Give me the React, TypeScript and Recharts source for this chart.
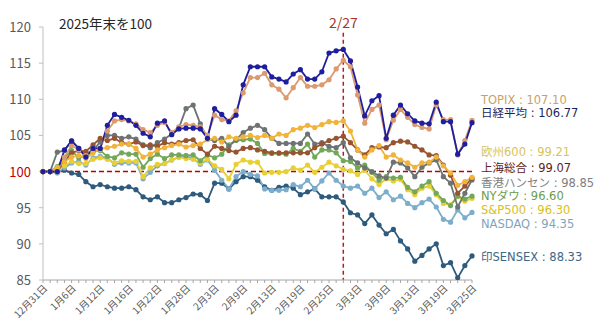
import React from 'react';
import { LineChart, Line, XAxis, YAxis, ReferenceLine } from 'recharts';

const dates = [
  '12月31日', '1月1日', '1月2日', '1月5日', '1月6日', '1月7日', '1月8日', '1月9日', '1月12日', '1月13日',
  '1月14日', '1月15日', '1月16日', '1月19日', '1月20日', '1月21日', '1月22日', '1月23日', '1月26日', '1月27日',
  '1月28日', '1月29日', '1月30日', '2月2日', '2月3日', '2月4日', '2月5日', '2月6日', '2月9日', '2月10日',
  '2月11日', '2月12日', '2月13日', '2月16日', '2月17日', '2月18日', '2月19日', '2月20日', '2月23日', '2月24日',
  '2月25日', '2月26日', '2月27日', '3月2日', '3月3日', '3月4日', '3月5日', '3月6日', '3月9日', '3月10日',
  '3月11日', '3月12日', '3月13日', '3月16日', '3月17日', '3月18日', '3月19日', '3月20日', '3月23日', '3月24日',
  '3月25日',
];

const nikkei = [
  100, 100, 100, 103.0, 104.2, 103.2, 102.0, 103.2, 103.2, 106.4,
  107.9, 107.5, 107.1, 106.4, 105.3, 104.8, 106.7, 107.0, 105.1, 105.9,
  106.0, 106.0, 105.9, 104.6, 108.7, 107.9, 106.9, 107.8, 112.0, 114.5,
  114.5, 114.5, 113.1, 112.8, 112.4, 113.5, 114.1, 112.8, 112.8, 113.8,
  116.4, 116.7, 116.9, 115.3, 111.7, 107.7, 109.8, 110.5, 104.6, 107.8,
  109.2, 108.0, 107.0, 106.7, 106.6, 109.6, 106.9, 106.9, 102.4, 103.8,
  106.77,
];

const topix = [
  100, 100, 100, 102.0, 103.6, 103.0, 102.2, 103.2, 103.2, 105.6,
  107.0, 107.2, 107.0, 106.6, 105.8, 105.4, 106.4, 106.8, 105.4, 106.2,
  106.5, 106.4, 106.2, 105.0, 107.8, 107.2, 107.0, 108.4, 110.9, 113.0,
  113.0, 113.6, 112.0, 111.4, 110.2, 111.6, 113.0, 111.8, 111.8, 112.0,
  112.7, 114.2, 115.4, 114.5, 110.6, 106.7, 108.6, 109.2, 104.4, 107.1,
  108.6, 107.5, 106.5, 106.1, 105.9, 109.2, 107.2, 107.2, 102.3, 104.3,
  107.10,
];

const europe600 = [
  100, 100, 100.6, 101.4, 102.0, 102.2, 101.8, 102.6, 103.1, 103.3,
  103.5, 103.8, 103.8, 103.2, 102.0, 102.4, 103.0, 103.3, 103.6, 103.8,
  103.4, 103.6, 103.8, 104.4, 104.6, 104.1, 104.8, 104.6, 104.8, 105.0,
  104.7, 105.0, 104.6, 105.2, 105.0, 105.8, 106.0, 106.4, 106.1, 106.5,
  106.9, 106.8, 107.0, 105.6, 103.0, 102.0, 103.0, 103.6, 102.0, 102.3,
  101.6, 101.2, 100.6, 101.2, 101.3, 102.0, 100.8, 99.8, 98.1, 98.6,
  99.21,
];

const shanghai = [
  100, 100, 100, 101.4, 102.6, 102.9, 102.8, 103.7, 104.6, 104.3,
  104.6, 104.0, 103.8, 104.1, 103.6, 103.7, 103.5, 104.0, 103.8, 104.0,
  104.3, 104.4, 103.2, 102.4, 103.5, 103.2, 102.9, 102.7, 103.2, 103.3,
  103.0, 102.8, 102.6, 102.6, 102.6, 102.6, 102.6, 102.6, 103.3, 103.8,
  104.3, 104.6, 104.9, 104.0, 103.0, 102.3, 103.3, 103.4, 103.3, 104.0,
  104.2, 104.1, 103.5, 103.0, 102.3, 102.2, 100.9, 99.5, 97.0, 98.0,
  99.07,
];

const hangseng = [
  100, 100, 102.7, 102.9, 104.3, 103.2, 102.3, 102.9, 104.1, 105.0,
  105.0, 104.6, 104.8, 104.5, 103.7, 103.3, 104.0, 104.5, 105.2, 106.0,
  108.7, 109.2, 106.6, 104.5, 104.3, 104.6, 103.5, 104.4, 105.4, 106.0,
  106.4, 105.8, 104.6, 103.9, 103.9, 103.9, 103.9, 105.2, 103.8, 104.0,
  103.5, 103.3, 104.0, 101.9, 101.2, 100.5, 100.0, 99.4, 99.1, 101.3,
  101.2, 100.5, 99.3, 100.6, 101.2, 101.6, 99.3, 98.4, 95.1, 97.0,
  98.85,
];

const nyDow = [
  100, 100, 100.7, 101.9, 102.9, 101.9, 102.3, 102.8, 102.9, 102.1,
  101.9, 102.6, 102.4, 102.4, 100.6, 101.8, 102.4, 101.8, 102.3, 102.3,
  102.2, 102.3, 101.5, 102.3, 101.9, 102.4, 103.7, 104.3, 104.4, 104.5,
  103.9, 102.5, 102.5, 102.5, 102.4, 103.2, 102.8, 103.8, 102.0, 103.0,
  103.0, 102.6, 101.5, 101.4, 100.5, 100.9, 99.9, 98.8, 99.3, 99.1,
  99.2, 97.8, 97.2, 98.0, 98.6, 97.0, 96.0, 95.3, 96.6, 96.2,
  96.60,
];

const sp500 = [
  100, 100, 100.2, 100.8, 101.4, 101.1, 101.1, 101.7, 101.9, 101.7,
  101.2, 101.5, 101.4, 101.4, 99.3, 100.5, 101.0, 101.1, 101.6, 102.0,
  101.8, 101.7, 101.2, 101.7, 100.8, 100.3, 99.0, 101.0, 101.6, 101.3,
  101.3, 99.8, 99.9, 99.9, 100.0, 100.5, 100.2, 100.9, 99.9, 100.6,
  101.3, 100.8, 100.3, 100.1, 99.6, 100.2, 99.0, 98.2, 99.0, 98.7,
  98.9, 97.5, 96.8, 97.7, 98.0, 96.8, 95.6, 95.4, 96.6, 95.9,
  96.30,
];

const nasdaq = [
  100, 100, 99.8, 100.5, 101.2, 101.4, 100.9, 101.9, 102.1, 101.9,
  101.0, 101.2, 101.2, 101.2, 99.0, 99.9, 100.8, 101.1, 101.6, 102.0,
  102.2, 101.8, 101.0, 101.6, 100.2, 98.8, 97.6, 99.3, 100.0, 99.6,
  99.4, 97.6, 97.4, 97.4, 97.5, 98.2, 97.9, 98.8, 97.6, 98.7,
  99.8, 98.8, 98.0, 97.7, 98.0, 97.0, 97.7, 96.4, 97.2, 96.1,
  96.6, 95.6, 95.0, 95.7, 96.2, 95.1, 93.4, 93.0, 94.7, 93.6,
  94.35,
];

const sensex = [
  100, 100, 100, 100.2, 99.8, 99.6, 98.6, 97.9, 98.2, 97.9,
  97.7, 97.7, 97.9, 97.5, 96.5, 96.1, 96.5, 95.7, 95.7, 96.1,
  96.4, 96.9, 96.8, 96.0, 98.4, 98.4, 97.6, 98.6, 99.3, 99.3,
  98.8, 97.9, 97.4, 97.8, 98.0, 97.7, 96.8, 97.2, 97.6, 96.5,
  96.5, 96.5, 95.8, 94.3, 94.0, 92.8, 94.0, 92.6, 91.4, 92.0,
  90.4, 89.3, 87.6, 88.4, 89.3, 90.0, 87.0, 87.4, 85.3, 87.0,
  88.33,
];

const yTicks = [85, 90, 95, 100, 105, 110, 115, 120];
const eventDate = '2月27日';
const eventLabel = '2/27';
const titleText = '2025年末を100';

const series = [
  { key: 'sensex', name: '印SENSEX', values: sensex, color: '#2E5B7D', text: '#3C6787' },
  { key: 'nasdaq', name: 'NASDAQ', values: nasdaq, color: '#7CAECB', text: '#7FA5BC' },
  { key: 'sp500', name: 'S&P500', values: sp500, color: '#E8CF33', text: '#D5C01E' },
  { key: 'nyDow', name: 'NYダウ', values: nyDow, color: '#73A85A', text: '#6C9C4E' },
  { key: 'hangseng', name: '香港ハンセン', values: hangseng, color: '#6D7272', text: '#808080' },
  { key: 'shanghai', name: '上海総合', values: shanghai, color: '#985430', text: '#5E2323' },
  { key: 'europe600', name: '欧州600', values: europe600, color: '#F2B33A', text: '#D6C45E' },
  { key: 'topix', name: 'TOPIX', values: topix, color: '#DC9A70', text: '#C7A267' },
  { key: 'nikkei', name: '日経平均', values: nikkei, color: '#1E1E9E', text: '#1F1F5A' },
];

const legendOrder = [
  { key: 'topix', top: 100 },
  { key: 'nikkei', top: 113 },
  { key: 'europe600', top: 152 },
  { key: 'shanghai', top: 168 },
  { key: 'hangseng', top: 183 },
  { key: 'nyDow', top: 196 },
  { key: 'sp500', top: 210 },
  { key: 'nasdaq', top: 224 },
  { key: 'sensex', top: 257 },
];

const data = dates.map((d, i) => {
  const row: any = { date: d };
  series.forEach((s) => {
    row[s.key] = s.values[i];
  });
  return row;
});

const FONT = "'Noto Sans CJK JP', 'Noto Sans', sans-serif";
const LEGEND_FONT = "'DejaVu Sans', 'Noto Sans CJK JP', sans-serif";

const XTick = (props: any) => {
  const { x, y, payload } = props;
  const idx = dates.indexOf(payload.value);
  if (idx % 4 !== 0) return null;
  const ax = x + 5;
  const ay = y + 6;
  return (
    <text
      x={ax}
      y={ay}
      transform={`rotate(-45, ${ax}, ${ay})`}
      textAnchor="end"
      fontSize={10}
      fill="#595959"
      fontFamily={FONT}
    >
      {payload.value}
    </text>
  );
};

const YTick = (props: any) => {
  const { x, y, payload } = props;
  return (
    <text
      x={x}
      y={y}
      dy={5}
      textAnchor="end"
      fontSize={13}
      fill={payload.value === 100 ? '#C00000' : '#595959'}
      fontFamily={FONT}
    >
      {payload.value}
    </text>
  );
};

export default function App() {
  const lastIdx = dates.length - 1;
  return (
    <div
      style={{
        position: 'absolute',
        left: 0,
        top: 0,
        width: 600,
        height: 334,
        background: '#ffffff',
        fontFamily: FONT,
        overflow: 'hidden',
      }}
    >
      <LineChart
        width={600}
        height={334}
        data={data}
        margin={{ top: 27, right: 128, bottom: 4, left: 0 }}
      >
        <XAxis
          dataKey="date"
          interval={0}
          tick={<XTick />}
          tickSize={3}
          tickMargin={0}
          height={50}
          axisLine={{ stroke: '#A6A6A6' }}
          tickLine={{ stroke: '#A6A6A6' }}
        />
        <YAxis
          domain={[85, 120]}
          ticks={yTicks}
          width={43}
          tick={<YTick />}
          tickSize={4}
          tickMargin={8}
          axisLine={{ stroke: '#BFBFBF' }}
          tickLine={{ stroke: '#BFBFBF' }}
          allowDataOverflow
        />
        <ReferenceLine y={100} stroke="#C00000" strokeDasharray="5 3" strokeWidth={1.5} />
        {series.map((s) => (
          <Line
            key={s.key}
            type="linear"
            dataKey={s.key}
            stroke={s.color}
            strokeWidth={1.8}
            dot={{ r: 2.6, fill: s.color, stroke: s.color, strokeWidth: 0 }}
            isAnimationActive={false}
          />
        ))}
        <ReferenceLine
          segment={[
            { x: eventDate, y: 119.2 },
            { x: eventDate, y: 85 },
          ]}
          stroke="#B02020"
          strokeDasharray="4 3"
          strokeWidth={1.5}
          label={{ value: eventLabel, position: 'top', fill: '#A5352B', fontSize: 14, offset: 5 }}
        />
      </LineChart>
      <div
        style={{
          position: 'absolute',
          left: 59,
          top: 14,
          fontSize: 13.5,
          color: '#262626',
          whiteSpace: 'nowrap',
          lineHeight: '18px',
        }}
      >
        {titleText}
      </div>
      {legendOrder.map((l) => {
        const s = series.find((q) => q.key === l.key)!;
        const v = s.values[lastIdx].toFixed(2);
        return (
          <div
            key={l.key}
            style={{
              position: 'absolute',
              left: 481,
              top: l.top - 5,
              fontSize: 11.5,
              lineHeight: '10px',
              height: 10,
              color: s.text,
              whiteSpace: 'nowrap',
              fontFamily: LEGEND_FONT,
            }}
          >
            {s.name} : {v}
          </div>
        );
      })}
    </div>
  );
}
